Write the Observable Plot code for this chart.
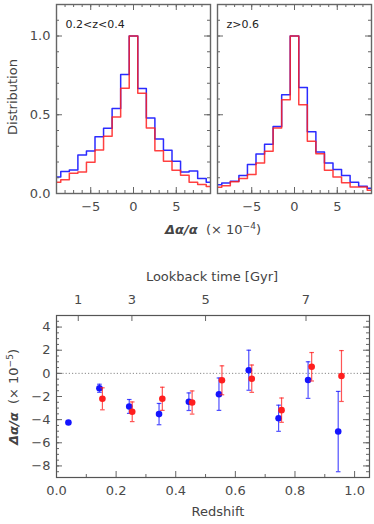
<!DOCTYPE html>
<html><head><meta charset="utf-8">
<script src="https://cdn.jsdelivr.net/npm/d3@7"></script>
<script src="https://cdn.jsdelivr.net/npm/@observablehq/plot@0.6"></script>
<style>
body{margin:0;background:#fff;}
#wrap{position:relative;width:374px;height:524px;overflow:hidden;font-family:"DejaVu Sans",sans-serif;color:#444;}
.abs{position:absolute;white-space:nowrap;line-height:1;}
.c{transform:translate(-50%,-50%);}
.r{transform:translate(-50%,-50%) rotate(-90deg);}
.pl{position:absolute;}
</style></head><body><div id="wrap"></div>
<script>
// ---------- data ----------
const binCenters = [-9,-8,-7,-6,-5,-4,-3,-2,-1,0,1,2,3,4,5,6,7,8,9];
const leftBlue  = [0.105,0.14,0.15,0.245,0.27,0.36,0.415,0.54,0.755,1.0,0.667,0.48,0.346,0.274,0.205,0.137,0.143,0.095,0.072];
const leftRed   = [0.072,0.087,0.129,0.137,0.198,0.276,0.363,0.485,0.669,1.0,0.637,0.416,0.272,0.205,0.148,0.116,0.072,0.057,0.044];
const rightBlue = [0.055,0.066,0.078,0.114,0.184,0.251,0.312,0.426,0.627,1.0,0.673,0.392,0.264,0.194,0.152,0.114,0.072,0.046,0.034];
const rightRed  = [0.04,0.05,0.074,0.095,0.12,0.194,0.268,0.416,0.595,1.0,0.563,0.331,0.253,0.148,0.105,0.068,0.042,0.042,0.021];
const panelLabels = ["0.2<z<0.4", "z>0.6"];

const blueZ   = [0.04,0.144,0.244,0.344,0.444,0.545,0.645,0.745,0.844,0.945];
const blueV   = [-4.25,-1.29,-2.86,-3.52,-2.45,-1.8,0.27,-3.88,-0.58,-5.03];
const blueErr = [0.08,0.35,0.6,0.92,0.76,1.4,1.73,1.13,1.58,3.47];
const redZ    = [0.154,0.254,0.355,0.455,0.555,0.655,0.755,0.856,0.956];
const redV    = [-2.2,-3.32,-2.2,-2.52,-0.6,-0.46,-3.18,0.57,-0.23];
const redErr  = [0.95,0.85,1.0,1.0,1.25,1.18,1.05,1.23,2.2];

const lookbackGyr = [1,3,5,7];
const lookbackZ   = [0.073,0.253,0.50,0.837];

const histXTicks = [-5,0,5];
const histYTicks = [0,0.5,1.0];
const zTicks = [0,0.2,0.4,0.6,0.8,1.0];
const dTicks = [-8,-6,-4,-2,0,2,4];

// ---------- style ----------
const BLUE = "#1414ff", RED = "#ff1e1e", FRAME = "#666", TXT = "#4a4a4a";
const fmtMinus = d => (d < 0 ? "\u2212" : "") + Math.abs(d);

function boxTicks(xMinor, xMajor, yMinor, yMajor, innerW, innerH, minL, majL) {
  const s = {stroke: FRAME, strokeWidth: 1};
  return [
    Plot.ruleX(xMinor, {x: d => d, insetTop: innerH - minL, ...s}),
    Plot.ruleX(xMinor, {x: d => d, insetBottom: innerH - minL, ...s}),
    Plot.ruleX(xMajor, {x: d => d, insetTop: innerH - majL, ...s}),
    Plot.ruleX(xMajor, {x: d => d, insetBottom: innerH - majL, ...s}),
    Plot.ruleY(yMinor, {y: d => d, insetRight: innerW - minL, ...s}),
    Plot.ruleY(yMinor, {y: d => d, insetLeft: innerW - minL, ...s}),
    Plot.ruleY(yMajor, {y: d => d, insetRight: innerW - majL, ...s}),
    Plot.ruleY(yMajor, {y: d => d, insetLeft: innerW - majL, ...s})
  ];
}

function steps(values) {
  const pts = binCenters.map((c, i) => ({x: c - 0.5, y: values[i]}));
  pts.push({x: binCenters[binCenters.length - 1] + 0.5, y: values[values.length - 1]});
  return pts;
}

const wrap = document.getElementById("wrap");
function place(el, left, top) {
  el.classList.add("pl");
  el.style.left = left + "px";
  el.style.top = top + "px";
  wrap.appendChild(el);
}
function label(html, x, y, cls, size, extra) {
  const d = document.createElement("div");
  d.className = "abs " + cls;
  d.style.left = x + "px";
  d.style.top = y + "px";
  d.style.fontSize = size + "px";
  if (extra) Object.assign(d.style, extra);
  d.innerHTML = html;
  wrap.appendChild(d);
}

// ---------- histograms ----------
function hist(blue, red, text, showY, width, ml) {
  const height = 215, mt = 4, mb = 22, mr = 3;
  const innerW = width - ml - mr, innerH = height - mt - mb;
  return Plot.plot({
    width, height, marginLeft: ml, marginRight: mr, marginTop: mt, marginBottom: mb,
    style: {fontFamily: "DejaVu Sans, sans-serif", fontSize: "13px", color: TXT, background: "transparent", overflow: "visible"},
    x: {domain: [-9, 9], axis: null},
    y: {domain: [0, 1.2], axis: null},
    marks: [
      Plot.lineY(steps(blue), {x: "x", y: "y", curve: "step-after", stroke: BLUE, strokeWidth: 1.5, strokeOpacity: 0.9, clip: true}),
      Plot.lineY(steps(red), {x: "x", y: "y", curve: "step-after", stroke: RED, strokeWidth: 1.5, strokeOpacity: 0.85, clip: true}),
      ...boxTicks(d3.range(-9, 10, 1), histXTicks, d3.range(0, 1.21, 0.1), histYTicks, innerW, innerH, 3, 6),
      Plot.frame({stroke: FRAME, strokeWidth: 1.4}),
      Plot.axisX(histXTicks, {tickSize: 0, tickPadding: 8, tickFormat: fmtMinus, label: null, fontSize: 13}),
      showY ? Plot.axisY(histYTicks, {tickSize: 0, tickPadding: 6, tickFormat: d3.format(".1f"), label: null, fontSize: 13}) : null,
      Plot.text([text], {frameAnchor: "top-left", dx: 9, dy: 16, text: d => d, fontSize: 11, fill: "#222"})
    ]
  });
}
place(hist(leftBlue, leftRed, panelLabels[0], true, 213, 56), 0, 0);
place(hist(rightBlue, rightRed, panelLabels[1], false, 213, 56), 161, 0);

label("Distribution", 12, 97, "r", 13);
label('<b><i>\u0394\u03b1/\u03b1</i></b>&nbsp; (\u00d7 10<sup style="font-size:9px">\u22124</sup>)', 213, 229, "c", 13);

// ---------- bottom panel ----------
(function () {
  const width = 374, height = 264, ml = 56, mr = 5, mt = 55, mb = 47;
  const innerW = width - ml - mr, innerH = height - mt - mb;
  const blue = blueZ.map((z, i) => ({z, v: blueV[i], e: blueErr[i]}));
  const red = redZ.map((z, i) => ({z, v: redV[i], e: redErr[i]}));
  const cap = {draw(ctx) { ctx.moveTo(-2.3, 0); ctx.lineTo(2.3, 0); }};
  const errMarks = (data, color) => [
    Plot.ruleX(data, {x: "z", y1: d => d.v - d.e, y2: d => d.v + d.e, stroke: color, strokeWidth: 1.2, strokeOpacity: 0.75}),
    Plot.dot(data, {x: "z", y: d => d.v + d.e, symbol: cap, stroke: color, strokeWidth: 1.2, strokeOpacity: 0.75, fill: "none"}),
    Plot.dot(data, {x: "z", y: d => d.v - d.e, symbol: cap, stroke: color, strokeWidth: 1.2, strokeOpacity: 0.75, fill: "none"}),
    Plot.dot(data, {x: "z", y: "v", r: 3.3, fill: color, stroke: "none"})
  ];
  const s = {stroke: FRAME, strokeWidth: 1};
  const chart = Plot.plot({
    width, height, marginLeft: ml, marginRight: mr, marginTop: mt, marginBottom: mb,
    style: {fontFamily: "DejaVu Sans, sans-serif", fontSize: "13px", color: TXT, background: "transparent", overflow: "visible"},
    x: {domain: [0, 1.05], axis: null},
    y: {domain: [-9, 5], axis: null},
    marks: [
      Plot.ruleY([0], {stroke: "#888", strokeDasharray: "1.2,2", strokeWidth: 1}),
      ...errMarks(blue, BLUE),
      ...errMarks(red, RED),
      Plot.ruleX(d3.range(0.1, 1.05, 0.2), {x: d => d, insetTop: innerH - 3, ...s}),
      Plot.ruleX(zTicks, {x: d => d, insetTop: innerH - 6, ...s}),
      Plot.ruleX(lookbackZ, {x: d => d, insetBottom: innerH - 6, ...s}),
      Plot.ruleY(d3.range(-9, 5.01, 0.5), {y: d => d, insetRight: innerW - 3, ...s}),
      Plot.ruleY(d3.range(-9, 5.01, 0.5), {y: d => d, insetLeft: innerW - 3, ...s}),
      Plot.ruleY(dTicks, {y: d => d, insetRight: innerW - 6, ...s}),
      Plot.ruleY(dTicks, {y: d => d, insetLeft: innerW - 6, ...s}),
      Plot.frame({stroke: "#555", strokeWidth: 1.2}),
      Plot.axisX(zTicks, {tickSize: 0, tickPadding: 8, tickFormat: d3.format(".1f"), label: null, fontSize: 13}),
      Plot.axisY(dTicks, {tickSize: 0, tickPadding: 6, tickFormat: fmtMinus, label: null, fontSize: 13}),
      Plot.text(lookbackGyr, {x: (d, i) => lookbackZ[i], text: d => String(d), frameAnchor: "top", dy: -12, lineAnchor: "bottom", fontSize: 13})
    ]
  });
  place(chart, 0, 260);
})();

label("Lookback time [Gyr]", 212, 276, "c", 13);
label("Redshift", 218, 511, "c", 13);
label('<b><i>\u0394\u03b1/\u03b1</i></b>&nbsp; (\u00d7 10<sup style="font-size:9px">\u22125</sup>)', 13, 397, "r", 13);
</script></body></html>
